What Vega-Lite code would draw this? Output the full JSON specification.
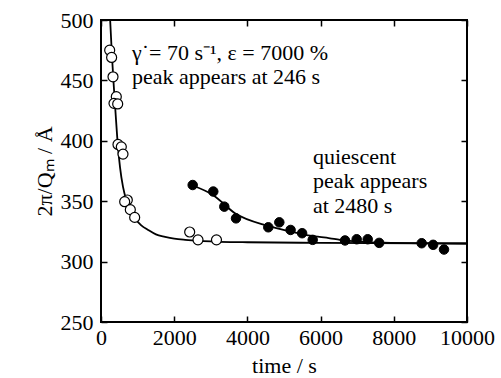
{
  "$schema": "https://vega.github.io/schema/vega-lite/v6.json",
  "autosize": "none",
  "width": 366,
  "height": 302,
  "padding": {"left": 101, "top": 20, "right": 34, "bottom": 56},
  "background": "white",
  "resolve": {"scale": {"x": "independent", "y": "independent"}, "axis": {"x": "independent", "y": "independent"}},
  "config": {
    "view": {"stroke": "black", "strokeWidth": 2},
    "font": "Liberation Serif, Times New Roman, serif",
    "axis": {
      "grid": false,
      "domain": false,
      "tickColor": "black",
      "tickWidth": 1.5,
      "tickSize": -6,
      "labelFont": "Liberation Serif, Times New Roman, serif",
      "labelFontSize": 22,
      "labelColor": "black",
      "titleFont": "Liberation Serif, Times New Roman, serif",
      "titleFontSize": 22,
      "titleFontWeight": "normal",
      "titleColor": "black"
    }
  },
  "layer": [
    {
      "data": {"values": [
        {"t": 250, "v": 500}, {"t": 300, "v": 470}, {"t": 350, "v": 445}, {"t": 400, "v": 422},
        {"t": 464, "v": 395}, {"t": 520, "v": 378}, {"t": 600, "v": 362}, {"t": 700, "v": 350},
        {"t": 800, "v": 342}, {"t": 920, "v": 336}, {"t": 1100, "v": 330}, {"t": 1300, "v": 326},
        {"t": 1500, "v": 322.5}, {"t": 1750, "v": 320.5}, {"t": 2000, "v": 319}, {"t": 2300, "v": 318},
        {"t": 2800, "v": 317}, {"t": 4000, "v": 316}, {"t": 6000, "v": 315.5}, {"t": 10000, "v": 315}
      ]},
      "mark": {"type": "line", "color": "black", "strokeWidth": 1.8, "interpolate": "monotone", "clip": true},
      "encoding": {
        "x": {"field": "t", "type": "quantitative", "scale": {"domain": [0, 10000], "nice": false},
          "axis": {"orient": "bottom", "title": "time / s", "format": "d", "values": [0, 2000, 4000, 6000, 8000, 10000], "labelPadding": 11, "titlePadding": 7, "labelFlush": false, "titleFontWeight": "normal"}},
        "y": {"field": "v", "type": "quantitative", "scale": {"domain": [250, 500], "nice": false, "zero": false},
          "axis": {"orient": "left", "title": "2π/Qₘ / Å", "values": [250, 300, 350, 400, 450, 500], "labelPadding": 14, "titlePadding": 4, "titleFontWeight": "normal"}}
      }
    },
    {
      "data": {"values": [
        {"t": 2505, "v": 363}, {"t": 3068, "v": 355}, {"t": 3661, "v": 340}, {"t": 4571, "v": 329.5},
        {"t": 5164, "v": 325}, {"t": 5710, "v": 321.5}, {"t": 6257, "v": 319.3}, {"t": 6530, "v": 318},
        {"t": 7713, "v": 315.7}, {"t": 10000, "v": 315}
      ]},
      "mark": {"type": "line", "color": "black", "strokeWidth": 1.8, "interpolate": "monotone", "clip": true},
      "encoding": {
        "x": {"field": "t", "type": "quantitative", "scale": {"domain": [0, 10000], "nice": false},
          "axis": {"orient": "top", "labels": false, "title": null, "values": [0, 2000, 4000, 6000, 8000, 10000]}},
        "y": {"field": "v", "type": "quantitative", "scale": {"domain": [250, 500], "nice": false, "zero": false},
          "axis": {"orient": "right", "labels": false, "title": null, "values": [250, 300, 350, 400, 450, 500]}}
      }
    },
    {
      "data": {"values": [
        {"t": 237, "v": 475}, {"t": 290, "v": 469}, {"t": 328, "v": 453}, {"t": 418, "v": 436.5},
        {"t": 355, "v": 431}, {"t": 456, "v": 430.5}, {"t": 464, "v": 397}, {"t": 555, "v": 395},
        {"t": 601, "v": 389}, {"t": 719, "v": 351}, {"t": 647, "v": 349.6}, {"t": 801, "v": 343},
        {"t": 920, "v": 336.6}, {"t": 2423, "v": 324.5}, {"t": 2650, "v": 318}, {"t": 3155, "v": 318}
      ]},
      "mark": {"type": "point", "shape": "circle", "filled": true, "fill": "white", "stroke": "black", "strokeWidth": 1.2, "size": 100, "opacity": 1},
      "encoding": {
        "x": {"field": "t", "type": "quantitative", "scale": {"domain": [0, 10000], "nice": false}, "axis": null},
        "y": {"field": "v", "type": "quantitative", "scale": {"domain": [250, 500], "nice": false, "zero": false}, "axis": null}
      }
    },
    {
      "data": {"values": [
        {"t": 2505, "v": 363.4}, {"t": 3068, "v": 358}, {"t": 3369, "v": 345.5}, {"t": 3689, "v": 335.8},
        {"t": 4571, "v": 328.4}, {"t": 4872, "v": 332.5}, {"t": 5180, "v": 326.2}, {"t": 5495, "v": 323.5},
        {"t": 5784, "v": 318}, {"t": 6667, "v": 317.5}, {"t": 6986, "v": 318.5}, {"t": 7287, "v": 318.5},
        {"t": 7600, "v": 315.5}, {"t": 8762, "v": 315.2}, {"t": 9075, "v": 313.9}, {"t": 9372, "v": 310}
      ]},
      "mark": {"type": "point", "shape": "circle", "filled": true, "fill": "black", "stroke": "black", "strokeWidth": 1, "size": 90, "opacity": 1},
      "encoding": {
        "x": {"field": "t", "type": "quantitative", "scale": {"domain": [0, 10000], "nice": false}, "axis": null},
        "y": {"field": "v", "type": "quantitative", "scale": {"domain": [250, 500], "nice": false, "zero": false}, "axis": null}
      }
    },
    {
      "data": {"values": [
        {"t": 847, "v": 466.9, "label": ["γ˙= 70 s⁻¹, ε = 7000 %", "peak appears at 246 s"]},
        {"t": 5792, "v": 380.8, "label": ["quiescent", "peak appears", "at 2480 s"]}
      ]},
      "mark": {"type": "text", "align": "left", "baseline": "alphabetic", "font": "Liberation Serif, Times New Roman, serif", "fontSize": 22, "lineHeight": 24.5, "color": "black"},
      "encoding": {
        "x": {"field": "t", "type": "quantitative", "scale": {"domain": [0, 10000], "nice": false}, "axis": null},
        "y": {"field": "v", "type": "quantitative", "scale": {"domain": [250, 500], "nice": false, "zero": false}, "axis": null},
        "text": {"field": "label"}
      }
    }
  ]
}
